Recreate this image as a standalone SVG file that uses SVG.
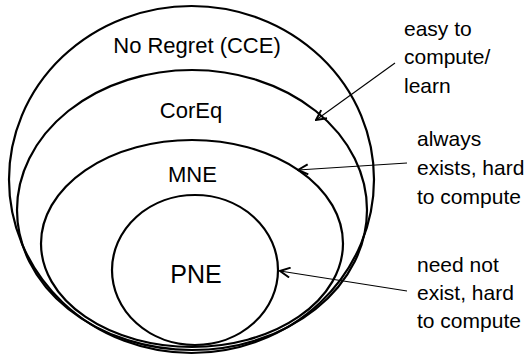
<svg xmlns="http://www.w3.org/2000/svg" width="531" height="358" viewBox="0 0 531 358">
<defs>
<style>
.set{fill:none;stroke:#000;stroke-width:2.2}
.lbl{font-family:"Liberation Sans",Arial,sans-serif;font-size:22px;fill:#000;text-anchor:middle}
.note{font-family:"Liberation Sans",Arial,sans-serif;font-size:21px;fill:#000}
.conn{fill:none;stroke:#000;stroke-width:1.1;marker-end:url(#arr)}
</style>
<marker id="arr" viewBox="0 0 12 12" refX="11" refY="6" markerWidth="12" markerHeight="12" markerUnits="userSpaceOnUse" orient="auto">
<path d="M1,1 L11,6 L1,11" fill="none" stroke="#000" stroke-width="2"/>
</marker>
</defs>
<rect width="531" height="358" fill="#fff"/>
<g id="cce">
<ellipse class="set" cx="191.5" cy="179.5" rx="182.5" ry="173.5"/>
<text class="lbl" x="197" y="53">No Regret (CCE)</text>
</g>
<g id="coreq">
<ellipse class="set" cx="192" cy="210" rx="175" ry="140"/>
<text class="lbl" x="191" y="118">CorEq</text>
</g>
<g id="mne">
<ellipse class="set" cx="192" cy="243.5" rx="151" ry="103.5"/>
<text class="lbl" x="192.5" y="182">MNE</text>
</g>
<g id="pne">
<ellipse class="set" cx="195" cy="270" rx="83" ry="75"/>
<text class="lbl" x="196" y="283" style="font-size:25px">PNE</text>
</g>
<g id="notes">
<text class="note" x="404" y="36">easy to</text>
<text class="note" x="404" y="64">compute/</text>
<text class="note" x="404" y="93">learn</text>
<text class="note" x="417" y="146">always</text>
<text class="note" x="417" y="175">exists, hard</text>
<text class="note" x="417" y="204">to compute</text>
<text class="note" x="417" y="272">need not</text>
<text class="note" x="417" y="300">exist, hard</text>
<text class="note" x="417" y="328">to compute</text>
</g>
<g id="connectors">
<line class="conn" x1="395" y1="63" x2="316" y2="120"/>
<line class="conn" x1="407" y1="163" x2="298" y2="170"/>
<line class="conn" x1="407" y1="291" x2="280" y2="271"/>
</g>
</svg>
